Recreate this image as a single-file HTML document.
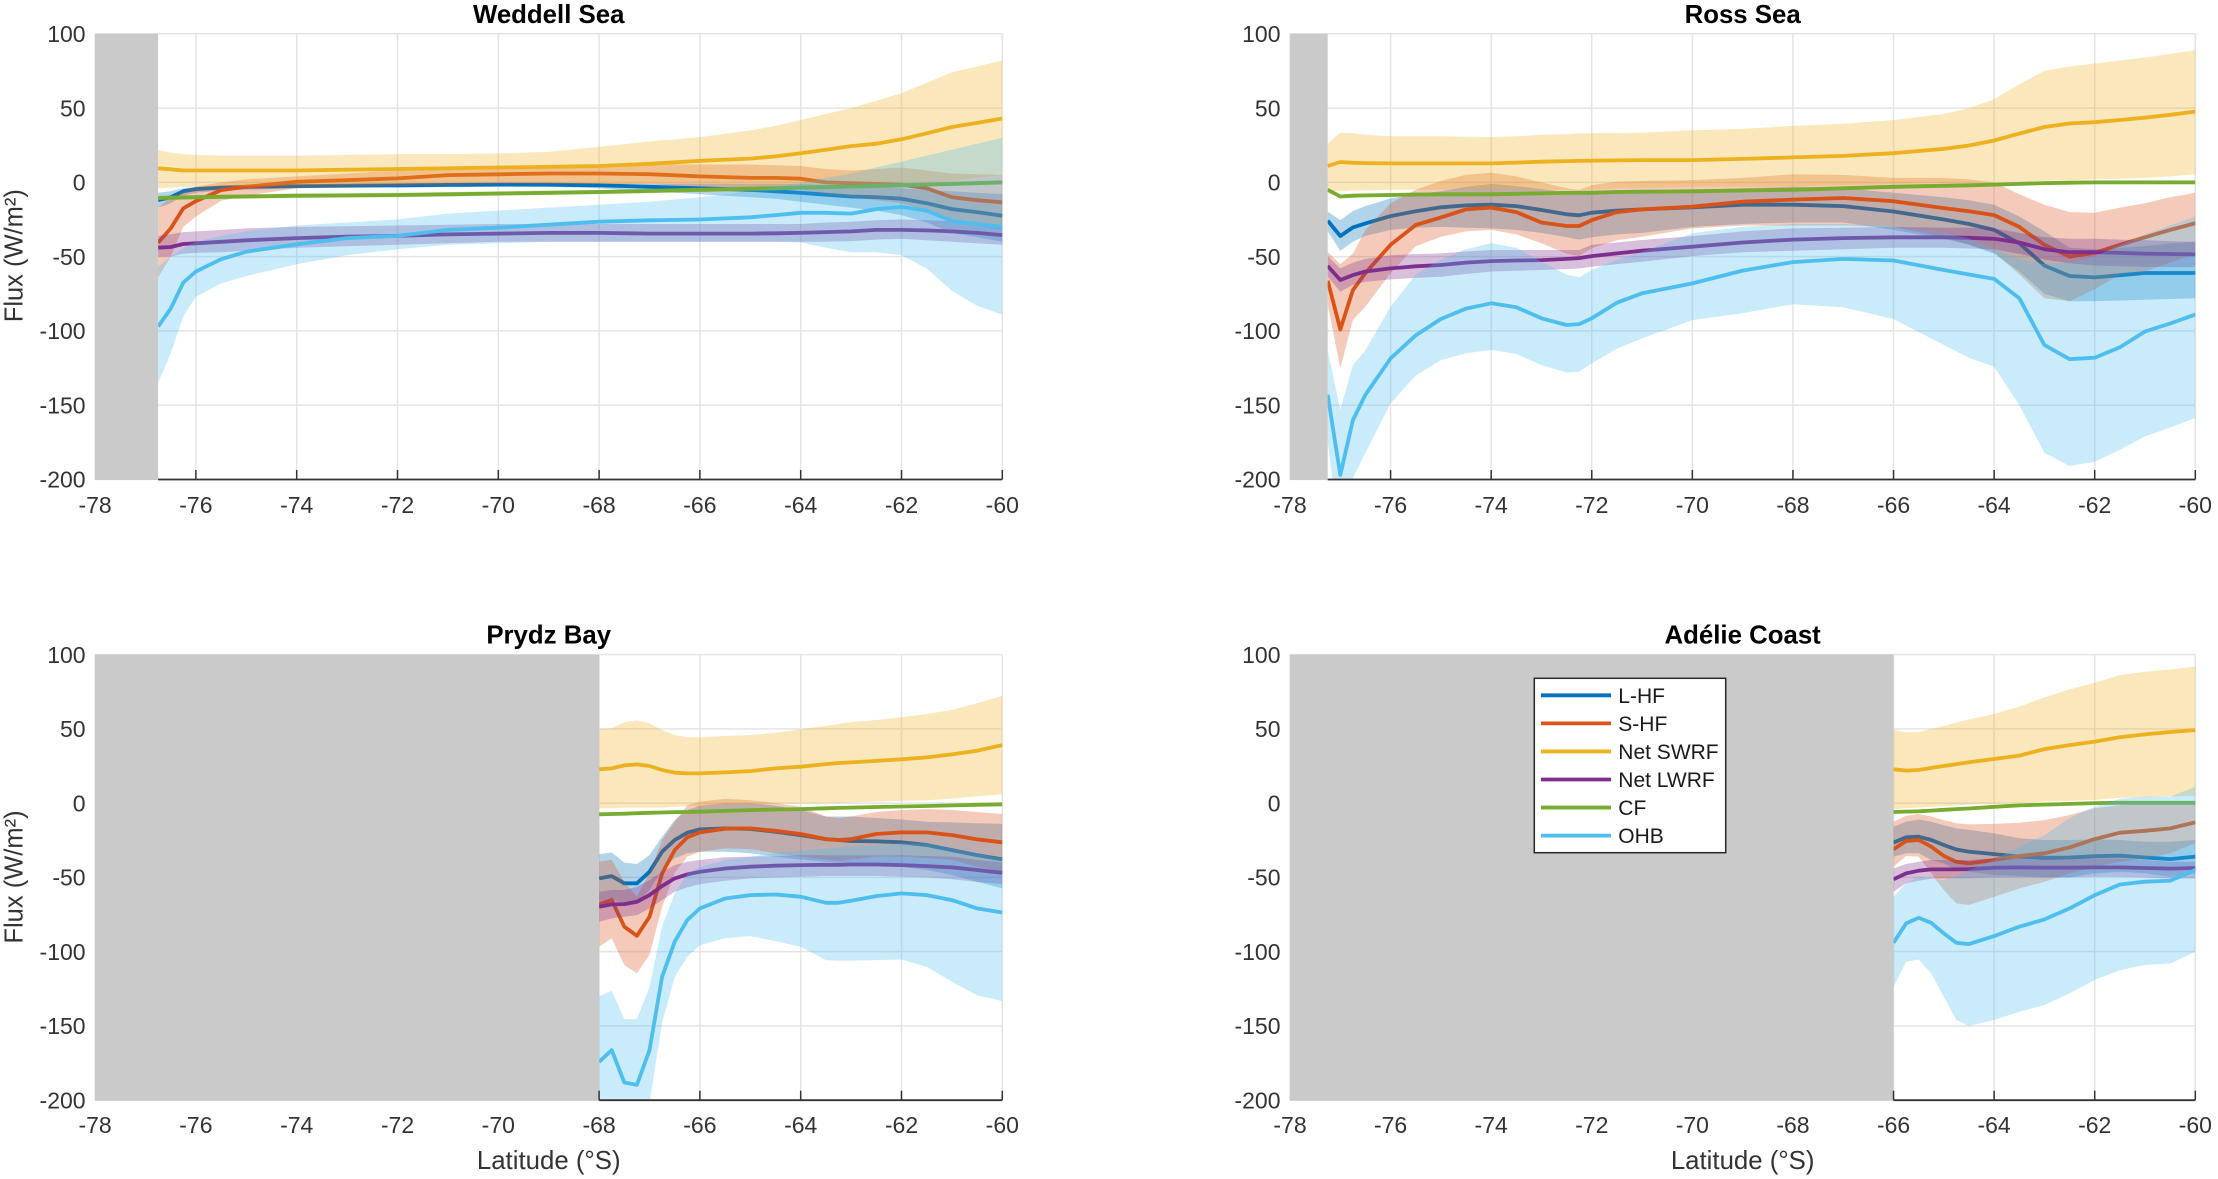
<!DOCTYPE html>
<html lang="en">
<head>
<meta charset="utf-8">
<title>Surface flux by latitude</title>
<style>
html,body{margin:0;padding:0;background:#fff;}
svg{display:block;font-family:"Liberation Sans",Arial,sans-serif;}
</style>
</head>
<body>
<svg id="figure" xmlns="http://www.w3.org/2000/svg" width="2218" height="1179" viewBox="0 0 2218 1179"></svg>
<script>
const latTicks = [-78,-76,-74,-72,-70,-68,-66,-64,-62,-60];
const fluxTicks = [100,50,0,-50,-100,-150,-200];
const legendLabels = ["L-HF","S-HF","Net SWRF","Net LWRF","CF","OHB"];

/* Weddell Sea */
const weddellLat = [-76.75,-76.5,-76.25,-76,-75.5,-75,-74,-73,-72,-71,-70,-69,-68,-67,-66,-65,-64.5,-64,-63.5,-63,-62.5,-62,-61.5,-61,-60.5,-60];
const weddellLhfMean = [-12,-10,-6,-4.5,-3.5,-3,-2.5,-2.2,-2,-1.7,-1.5,-1.6,-2,-3,-4,-5,-6,-7,-8.3,-9.5,-10,-11,-14,-18,-20,-22.5];
const weddellLhfUpper = [-7,-6,-4,-3,-2,-1.5,-1,-1,-0.8,-0.5,-0.3,-0.3,-0.5,-1,-1,-1,-1,-1,-1.5,-2,-3,-4,-5,-6,-7,-8];
const weddellLhfLower = [-17,-14,-9,-7,-5.5,-5,-4,-3.6,-3.5,-3.2,-3,-3,-4,-6,-8,-10,-11,-13,-15,-17,-19,-22,-27,-34,-37,-40];
const weddellShfMean = [-40.6,-31,-17.5,-12.6,-5.2,-3,0.4,1.5,2.7,4.9,5.4,6,6,5.5,4,3,3,2.5,0,-0.5,-1,-1.5,-4,-10,-12,-13.5];
const weddellShfUpper = [-17,-10,-6,-3,0,2,4,6,8,10,11,11.5,12,12,12,12,11.5,11,9,8,9,10,8,6,5.5,5];
const weddellShfLower = [-64,-50,-30,-23,-12.4,-9,-4,-3,-2.5,-2,-1,-1,-1,-1,-3,-4,-4.5,-5,-8,-10,-12,-14,-19,-26,-29,-32];
const weddellSwrfMean = [9.5,8.8,8,8,8,8,8,8.5,9,9.5,10,10.5,11,12.5,14.5,16,17.5,19.6,22,24.4,26,29,33,37.3,40,43];
const weddellSwrfUpper = [22,20,19,18.5,18,18,18,18.5,19,19,19.5,20.5,24,27.5,30.5,35,38,42,46,50,55,60,67,74,78,82];
const weddellSwrfLower = [-4,-3.5,-3,-3,-2.5,-2.5,-2,-1.5,-1,-0.5,0,-0.5,-1,-1,-1,-1.5,-2,-2,-1.5,-1,-1.5,-2,-0.5,1,3,5];
const weddellLwrfMean = [-44,-43.5,-41.5,-41,-40,-39,-37.5,-36.5,-36,-35,-34.5,-34,-34,-34.5,-34.5,-34.5,-34.3,-34,-33.5,-33,-32,-32,-32.3,-33,-34,-35.5];
const weddellLwrfUpper = [-36,-35,-33.5,-33,-32,-31,-30,-29.5,-29,-28.5,-28,-28,-28,-28,-28,-28,-28,-28,-27,-26.5,-25.5,-25,-25.5,-26,-27.5,-29];
const weddellLwrfLower = [-50,-50,-48,-47.5,-47,-46,-44,-43,-42,-41,-40,-40,-40,-40,-40,-40,-40,-40,-40,-39.5,-38.5,-38,-39,-40,-41,-42];
const weddellCfMean = [-10.5,-10.3,-10.2,-10,-9.7,-9.5,-9,-8.8,-8.5,-8,-7.5,-7,-6.5,-5.8,-5,-4.3,-4,-3.5,-3.2,-2.8,-2.4,-2,-1.5,-1,-0.5,0];
const weddellCfUpper = [-9,-8.8,-8.7,-8.5,-8.2,-8,-7.5,-7.3,-7,-6.5,-6,-5.5,-5,-4.3,-3.5,-2.8,-2.5,-2,-1.7,-1.3,-0.9,-0.5,0,0.5,1,1.5];
const weddellCfLower = [-12,-11.8,-11.7,-11.5,-11.2,-11,-10.5,-10.3,-10,-9.5,-9,-8.5,-8,-7.3,-6.5,-5.8,-5.5,-5,-4.7,-4.3,-3.9,-3.5,-3,-2.5,-2,-1.5];
const weddellOhbMean = [-97,-85,-67.5,-60,-51.7,-46.7,-41.6,-37.5,-36,-32,-30.5,-28.5,-26.5,-25.5,-25,-23.5,-22,-20.5,-20.5,-21,-18,-16.5,-19,-26,-28,-30];
const weddellOhbUpper = [-57,-50,-44,-40,-36,-33,-29,-27,-25,-21,-19,-17,-15,-13,-10,-6,-3,0,3,6,10,14,18,22,26,30];
const weddellOhbLower = [-135,-115,-90,-77,-68,-63,-55,-49,-45,-42,-41,-40,-40,-40,-40,-40,-40,-40.5,-44,-47,-47,-49,-58,-73,-83,-89];

/* Ross Sea */
const rossLat = [-77.25,-77,-76.75,-76.5,-76,-75.5,-75,-74.5,-74,-73.5,-73,-72.5,-72.25,-72,-71.5,-71,-70,-69,-68,-67,-66,-65,-64.5,-64,-63.5,-63,-62.5,-62,-61.5,-61,-60.5,-60];
const rossLhfMean = [-25.8,-36.1,-30.3,-27.6,-22.7,-19.5,-16.8,-15.5,-15,-16,-18.6,-21.5,-22.2,-20.4,-19,-18.2,-16.8,-15,-15,-16,-19.6,-25,-28,-32,-41,-56,-63,-64,-62.5,-61,-61,-61];
const rossLhfUpper = [-19.8,-25.4,-19.3,-16,-10.8,-8,-6,-3,-1,-2.5,-4.5,-6.5,-7,-6,-5.5,-5.5,-5,-4,-3,-4,-7,-10,-12,-15,-23,-33,-44,-45,-44,-43,-41,-40];
const rossLhfLower = [-33,-46,-40,-36,-32,-30.5,-30,-30.5,-31,-32,-34,-37,-38.5,-37,-35,-34,-30,-28,-27,-27,-32,-38,-42,-48,-60,-75,-80,-80,-79.5,-79,-78.5,-78];
const rossShfMean = [-66.2,-99,-72.5,-61,-42,-28.7,-23.6,-18.2,-17,-20,-27,-29.4,-29.4,-25.4,-20,-18.2,-16.4,-13,-11.6,-10.5,-12.7,-17.3,-19.5,-22,-30,-42,-50,-47.5,-42,-37,-32,-27.5];
const rossShfUpper = [-47,-55,-48,-32,-14,-5,1,5,6.5,4,0,-4,-5,-2,0.5,1,1.5,3,5.5,5,3,3,2,0,-8,-15,-20,-20.5,-17,-14,-10,-7];
const rossShfLower = [-82,-125,-92.6,-83.7,-61,-43,-36.6,-33,-32,-35,-41,-48,-49.6,-44.4,-39,-36.6,-31,-29,-29,-29,-30,-37,-42,-47,-62,-78,-80,-72,-62,-60,-54,-48];
const rossSwrfMean = [11,13.7,13.2,13,12.8,12.8,12.8,12.8,12.8,13.3,13.9,14.3,14.5,14.6,14.8,15,15,15.8,16.8,17.8,19.6,22.5,24.8,28.2,32.8,37.3,39.6,40.5,42,43.5,45.5,47.6];
const rossSwrfUpper = [26,33.5,33,32,31,31,31,30.7,30.5,31,32,32.5,33,33,33.2,33.5,35,36,38,39.5,42,46,50,56,66,75,78,80,82,84,86.5,89];
const rossSwrfLower = [-6,-6,-5.5,-5.5,-5,-5,-5,-5,-5,-5,-5,-5,-5,-5,-4,-4,-3,-3,-3,-2,-1,-0.5,0,0,0.5,1,1.5,2,2.5,3,4,5.5];
const rossLwrfMean = [-56.3,-65.7,-62.4,-60,-57.9,-56.5,-55.6,-54,-53,-52.6,-52.3,-51.5,-51,-49.6,-47.8,-46,-43.3,-40.5,-38.5,-37.5,-37,-37,-37.3,-38,-40.5,-45,-47,-47,-47.5,-48,-48.2,-48.5];
const rossLwrfUpper = [-49.6,-57.9,-54,-51.5,-49,-48.3,-47.8,-46.5,-45.5,-45.5,-45.5,-45.5,-45.5,-42,-40.5,-38.8,-36.2,-33,-31,-30.5,-30,-30.5,-30.5,-31,-34,-37,-38,-38,-38.5,-39,-39.5,-40];
const rossLwrfLower = [-63.5,-73.6,-69,-67,-65.3,-64.3,-63.5,-61.7,-60,-59.5,-59,-58.3,-58,-56.8,-55,-53.4,-49.6,-47,-46,-45,-44,-44,-44.5,-45,-48,-52,-54.5,-56,-56.5,-57,-57,-57];
const rossCfMean = [-5,-9.5,-9,-8.8,-8.5,-8.2,-8,-8,-8,-7.7,-7.4,-7.1,-7,-7,-6.5,-6.3,-6,-5.5,-5,-4,-3,-2.3,-2,-1.5,-1,-0.5,-0.2,0,0,0,0,0];
const rossCfUpper = [-3.7,-8.2,-7.7,-7.5,-7.2,-6.9,-6.7,-6.7,-6.7,-6.4,-6.1,-5.8,-5.7,-5.7,-5.2,-5,-4.7,-4.2,-3.7,-2.7,-1.7,-1,-0.7,-0.2,0.3,0.8,1.1,1.3,1.3,1.3,1.3,1.3];
const rossCfLower = [-6.3,-10.8,-10.3,-10.1,-9.8,-9.5,-9.3,-9.3,-9.3,-9,-8.7,-8.4,-8.3,-8.3,-7.8,-7.6,-7.3,-6.8,-6.3,-5.3,-4.3,-3.6,-3.3,-2.8,-2.3,-1.8,-1.5,-1.3,-1.3,-1.3,-1.3,-1.3];
const rossOhbMean = [-143,-197,-160,-143,-118.5,-103,-92,-85,-81.4,-84,-91.5,-96,-95.4,-91.5,-81,-74.7,-68,-59.4,-53.7,-51.5,-52.6,-59,-62,-65,-78,-109.5,-119,-118,-111,-100.4,-95,-89];
const rossOhbUpper = [-113,-153,-123,-113,-83.7,-62,-52,-45,-41,-44,-53.4,-62,-64,-59,-52,-46.7,-34.3,-30,-28,-28,-30,-34,-38,-45,-52,-55,-54,-50,-42,-35,-29,-23];
const rossOhbLower = [-175,-240,-199,-182,-148.7,-130,-119.6,-115,-112.8,-115.5,-123,-128,-127.4,-121.8,-112,-105,-92.7,-88,-82,-84,-92,-109.5,-118,-124,-150,-182,-190.9,-188,-180,-171,-165,-158.5];

/* Prydz Bay */
const prydzLat = [-68,-67.75,-67.5,-67.25,-67,-66.75,-66.5,-66.25,-66,-65.5,-65,-64.5,-64,-63.5,-63.25,-63,-62.5,-62,-61.5,-61,-60.5,-60];
const prydzLhfMean = [-50.7,-49.1,-54,-54,-46.2,-32.7,-24.8,-19.9,-17.7,-17,-17.4,-19.2,-21.5,-24.2,-24.8,-25.5,-25.7,-26.4,-28.2,-31.6,-35,-37.9];
const prydzLhfUpper = [-34.3,-33.2,-40,-41,-35,-22.6,-11.4,-4.6,-1.7,0,0,-1.7,-4.6,-9,-9,-9,-10,-11,-12.5,-13,-13.6,-14];
const prydzLhfLower = [-67.5,-65,-67.5,-67.5,-58.5,-45,-37,-33.8,-32.7,-32.7,-33.8,-36,-38,-39.4,-40,-40.6,-41.7,-42.8,-45,-48.4,-53,-57.4];
const prydzShfMean = [-68.2,-65.2,-83.2,-89.3,-76.5,-47.3,-31.6,-23,-19.7,-17.2,-17,-18.6,-20.8,-24.2,-24.8,-24.2,-20.8,-19.7,-19.7,-21.5,-24.4,-26.4];
const prydzShfUpper = [-39.5,-38,-53,-63,-47,-25,-12.5,-1.3,1,3,2,0,-2.4,-9,-10,-9,-6,-4.6,-4,-4.6,-6,-7.3];
const prydzShfLower = [-96.7,-91,-109,-114.6,-102,-70,-47,-36,-32.7,-30.5,-31,-33.8,-36,-38,-39,-38,-36,-36,-37,-38.3,-42.8,-46];
const prydzSwrfMean = [22.8,23.4,25.4,26.1,25,22.3,20.5,20,20,20.7,21.6,23.4,24.5,26.3,27,27.4,28.4,29.5,30.8,32.8,35.3,39.1];
const prydzSwrfUpper = [49.9,50.4,54.4,55.8,53.7,49.2,45.9,44.3,44.3,45.2,45.9,47.4,49.7,52,53.3,54.6,56,57.8,60,62.7,67.2,72.2];
const prydzSwrfLower = [-3.5,-3.5,-3,-3,-3,-3,-2.5,-2,-2,-1,-1,-0.5,-0.5,0,0,0.5,1,1.5,2,3,4.5,6];
const prydzLwrfMean = [-69.8,-68.2,-68,-66.4,-61.9,-55.8,-50.7,-48,-46.2,-44,-42.8,-42.1,-41.7,-41.5,-41.5,-41.3,-41.3,-41.7,-42.4,-43.3,-45,-46.9];
const prydzLwrfUpper = [-59.7,-58.5,-58.5,-56.3,-51.8,-46.2,-41.7,-39.5,-38.3,-36.5,-36,-35.6,-35,-35,-35,-35,-35,-35,-35.6,-36,-38.3,-40];
const prydzLwrfLower = [-79.9,-77.6,-76.5,-75.4,-70.9,-65.3,-59.7,-56.7,-54.5,-52.2,-50.7,-50,-49.5,-49,-49,-49,-49,-49.5,-50,-51.3,-53,-54.5];
const prydzCfMean = [-7.5,-7.3,-7.1,-6.8,-6.5,-6.3,-6.1,-6,-5.8,-5.2,-4.7,-4.3,-4,-3.5,-3.2,-3,-2.6,-2.3,-1.9,-1.5,-1.1,-0.8];
const prydzCfUpper = [-6.5,-6.3,-6.1,-5.8,-5.5,-5.3,-5.1,-5,-4.8,-4.2,-3.7,-3.3,-3,-2.5,-2.2,-2,-1.6,-1.3,-0.9,-0.5,-0.1,0.2];
const prydzCfLower = [-8.5,-8.3,-8.1,-7.8,-7.5,-7.3,-7.1,-7,-6.8,-6.2,-5.7,-5.3,-5,-4.5,-4.2,-4,-3.6,-3.3,-2.9,-2.5,-2.1,-1.8];
const prydzOhbMean = [-174.2,-166.3,-188.1,-189.7,-166.3,-116.9,-93.3,-78.7,-70.9,-64.2,-61.9,-61.5,-63,-67.1,-67.1,-65.7,-62.6,-60.8,-61.9,-65.3,-70.9,-73.6];
const prydzOhbUpper = [-129.9,-126.4,-145.4,-145.4,-123.7,-83.2,-60.8,-47.3,-42.8,-38.3,-36,-33.8,-32,-30.5,-29.8,-29.3,-28.2,-27,-27,-30.5,-33.8,-37.2];
const prydzOhbLower = [-218,-204.5,-227,-231,-202,-148,-117,-103.5,-95.6,-91,-89.5,-92.9,-96.7,-105.7,-106,-106,-105.7,-105.3,-110.2,-120.2,-129.3,-133.3];

/* Adelie Coast */
const adelieLat = [-66,-65.75,-65.5,-65.25,-65,-64.75,-64.5,-64,-63.5,-63,-62.5,-62,-61.5,-61,-60.5,-60];
const adelieLhfMean = [-26.6,-23,-22.6,-24.8,-28.2,-31.2,-32.7,-34.3,-36,-36.8,-36.6,-35.7,-35.4,-36.6,-37.7,-36];
const adelieLhfUpper = [-15.9,-12.5,-11,-12.5,-14.8,-17,-18,-20.4,-23.7,-24.8,-24.8,-24.4,-24.8,-26,-26,-24.8];
const adelieLhfLower = [-36,-33.8,-33.8,-38.3,-40.6,-45,-46.2,-48.4,-49,-50,-50,-47.3,-46.2,-47.3,-49.5,-47.3];
const adelieShfMean = [-31.1,-25.5,-24.8,-29.3,-35.6,-39.5,-40.6,-38.3,-35.6,-33.8,-29.8,-24.2,-19.9,-18.6,-17,-13];
const adelieShfUpper = [-12.5,-8.5,-7.3,-9,-11.4,-13.6,-14.3,-14,-13.2,-11.4,-8,-3.5,-1.3,-0.2,-0.2,1.6];
const adelieShfLower = [-42.8,-35.6,-36,-47.3,-58.5,-67.5,-68.6,-63,-57.4,-53,-47.3,-42.8,-39.4,-37.2,-33.8,-27];
const adelieSwrfMean = [22.8,21.9,22.3,23.7,25,26.3,27.5,29.7,32,36.4,39.1,41.4,44.3,46.3,47.9,49.2];
const adelieSwrfUpper = [49.2,47.7,47.9,49.9,51.9,54.2,56.4,60,65,71.2,76.6,81.1,86.2,88.4,90,91.9];
const adelieSwrfLower = [-4,-3.5,-3,-2.5,-2,-1.5,-1,-0.5,0,1,1.5,2.2,3.5,4,4.5,5];
const adelieLwrfMean = [-51.3,-47.3,-45.5,-44.6,-44.6,-44.6,-44.4,-43.5,-43.3,-43.5,-43.5,-43.3,-43.3,-43.7,-44.1,-43.7];
const adelieLwrfUpper = [-44,-41,-39.5,-38.3,-38.3,-38.3,-38.3,-37.2,-37.2,-37.2,-37.2,-37.2,-37.2,-38.3,-39.5,-39.5];
const adelieLwrfLower = [-59.7,-54,-52.2,-50.9,-50.7,-50.7,-50.7,-50,-50,-50,-50,-49.5,-49.5,-50,-50.7,-50.7];
const adelieCfMean = [-6,-5.7,-5.5,-5,-4.5,-4,-3.6,-2.5,-1.5,-1,-0.5,0,0.2,0.2,0.2,0.2];
const adelieCfUpper = [-5,-4.7,-4.5,-4,-3.5,-3,-2.6,-1.5,-0.5,0,0.5,1,1.2,1.2,1.2,1.2];
const adelieCfLower = [-7,-6.7,-6.5,-6,-5.5,-5,-4.6,-3.5,-2.5,-2,-1.5,-1,-0.8,-0.8,-0.8,-0.8];
const adelieOhbMean = [-94,-81,-77.2,-80.6,-87.7,-94,-94.9,-89.5,-83.2,-78.3,-70.9,-62,-54.8,-52.9,-52.2,-45];
const adelieOhbUpper = [-63,-54,-49.5,-50.7,-51.8,-49,-45,-38.3,-29.3,-21.5,-10,-2.4,3,4.3,4.3,11];
const adelieOhbLower = [-123.7,-106.8,-105.3,-114.6,-130.4,-146,-150,-146,-140.4,-136,-128,-119,-112.4,-109,-108,-100];

const seriesStyle = [
  {key:"l-hf", color:"#0072BD"},
  {key:"s-hf", color:"#D95319"},
  {key:"net-swrf", color:"#EDB120"},
  {key:"net-lwrf", color:"#7E2F8E"},
  {key:"cf", color:"#77AC30"},
  {key:"ohb", color:"#4DBEEE"}
];

const panels = [
  {key:"weddell", title:"Weddell Sea", left:95.1, right:1002.3, top:33.8, bottom:479.5, yLabel:true, xLabel:false, titleY:23, tickY:513, yLabelY:255.7,
   lat:weddellLat, series:[[weddellLhfMean,weddellLhfUpper,weddellLhfLower],[weddellShfMean,weddellShfUpper,weddellShfLower],[weddellSwrfMean,weddellSwrfUpper,weddellSwrfLower],[weddellLwrfMean,weddellLwrfUpper,weddellLwrfLower],[weddellCfMean,weddellCfUpper,weddellCfLower],[weddellOhbMean,weddellOhbUpper,weddellOhbLower]]},
  {key:"ross", title:"Ross Sea", left:1290, right:2195.3, top:33.8, bottom:479.5, yLabel:false, xLabel:false, titleY:23, tickY:513,
   lat:rossLat, series:[[rossLhfMean,rossLhfUpper,rossLhfLower],[rossShfMean,rossShfUpper,rossShfLower],[rossSwrfMean,rossSwrfUpper,rossSwrfLower],[rossLwrfMean,rossLwrfUpper,rossLwrfLower],[rossCfMean,rossCfUpper,rossCfLower],[rossOhbMean,rossOhbUpper,rossOhbLower]]},
  {key:"prydz", title:"Prydz Bay", left:95.1, right:1002.3, top:654.6, bottom:1100.2, yLabel:true, xLabel:true, titleY:643.5, tickY:1133, yLabelY:877,
   lat:prydzLat, series:[[prydzLhfMean,prydzLhfUpper,prydzLhfLower],[prydzShfMean,prydzShfUpper,prydzShfLower],[prydzSwrfMean,prydzSwrfUpper,prydzSwrfLower],[prydzLwrfMean,prydzLwrfUpper,prydzLwrfLower],[prydzCfMean,prydzCfUpper,prydzCfLower],[prydzOhbMean,prydzOhbUpper,prydzOhbLower]]},
  {key:"adelie", title:"Adélie Coast", left:1290, right:2195.3, top:654.6, bottom:1100.2, yLabel:false, xLabel:true, titleY:643.5, tickY:1133,
   lat:adelieLat, series:[[adelieLhfMean,adelieLhfUpper,adelieLhfLower],[adelieShfMean,adelieShfUpper,adelieShfLower],[adelieSwrfMean,adelieSwrfUpper,adelieSwrfLower],[adelieLwrfMean,adelieLwrfUpper,adelieLwrfLower],[adelieCfMean,adelieCfUpper,adelieCfLower],[adelieOhbMean,adelieOhbUpper,adelieOhbLower]]}
];

const NS = "http://www.w3.org/2000/svg";
const svg = document.getElementById("figure");

function make(parent, tag, attrs, text) {
  const el = document.createElementNS(NS, tag);
  for (const k in attrs) el.setAttribute(k, attrs[k]);
  if (text !== undefined) el.textContent = text;
  parent.appendChild(el);
  return el;
}
function xScale(p, lat) { return p.left + (lat - latTicks[0]) / (latTicks[latTicks.length - 1] - latTicks[0]) * (p.right - p.left); }
function yScale(p, v) { return p.top + (fluxTicks[0] - v) / (fluxTicks[0] - fluxTicks[fluxTicks.length - 1]) * (p.bottom - p.top); }

panels.forEach(function (p) {
  const g = make(svg, "g", {});
  
  

  const clip = make(g, "clipPath", {id: "clip-" + p.key});
  make(clip, "rect", {x: p.left, y: p.top, width: p.right - p.left, height: p.bottom - p.top});

  fluxTicks.forEach(function (t) {
    const y = yScale(p, t);
    if (t !== fluxTicks[fluxTicks.length - 1]) {
      const line = make(g, "line", {x1: p.left, x2: p.right, y1: y, y2: y, stroke: "#e4e4e4", "stroke-width": 1.5});
      
      
    }
    const label = make(g, "text", {x: p.left - 9.5, y: y + 8.2, "text-anchor": "end", "font-size": 23, fill: "#333"}, String(t));
    
    
  });
  latTicks.forEach(function (t) {
    const x = xScale(p, t);
    const line = make(g, "line", {x1: x, x2: x, y1: p.top, y2: p.bottom, stroke: "#e4e4e4", "stroke-width": 1.5});
    
    
    const label = make(g, "text", {x: x, y: p.tickY, "text-anchor": "middle", "font-size": 23, fill: "#333"}, String(t));
    
    
  });

  const marks = make(g, "g", {"clip-path": "url(#clip-" + p.key + ")"});
  p.series.forEach(function (s, i) {
    const style = seriesStyle[i];
    const mean = s[0], upper = s[1], lower = s[2];
    let d = "";
    p.lat.forEach(function (lat, j) { d += (j ? "L" : "M") + xScale(p, lat).toFixed(1) + " " + yScale(p, upper[j]).toFixed(1); });
    for (let j = p.lat.length - 1; j >= 0; j--) d += "L" + xScale(p, p.lat[j]).toFixed(1) + " " + yScale(p, lower[j]).toFixed(1);
    const band = make(marks, "path", {d: d + "Z", fill: style.color, "fill-opacity": 0.3, stroke: "none"});
    
    
    const pts = p.lat.map(function (lat, j) { return xScale(p, lat).toFixed(1) + "," + yScale(p, mean[j]).toFixed(1); }).join(" ");
    const line = make(marks, "polyline", {points: pts, fill: "none", stroke: style.color, "stroke-width": 3.8, "stroke-linejoin": "round"});
    
    
  });

  const dataStart = xScale(p, p.lat[0]);
  const mask = make(g, "rect", {x: p.left, y: p.top, width: dataStart - p.left, height: p.bottom - p.top + 0.6, fill: "#cacaca"});
  
  

  const axis = make(g, "line", {x1: dataStart, x2: p.right, y1: p.bottom, y2: p.bottom, stroke: "#333", "stroke-width": 1.8});
  
  
  latTicks.forEach(function (t) {
    if (t < p.lat[0]) return;
    const x = xScale(p, t);
    const tick = make(g, "line", {x1: x, x2: x, y1: p.bottom, y2: p.bottom - 9.5, stroke: "#333", "stroke-width": 1.5});
    
    
  });

  const title = make(g, "text", {x: (p.left + p.right) / 2, y: p.titleY, "text-anchor": "middle", "font-size": 25.8, "font-weight": "bold", fill: "#000"}, p.title);
  
  

  if (p.yLabel) {
    const yl = make(g, "text", {transform: "translate(22.5 " + p.yLabelY + ") rotate(-90)", "text-anchor": "middle", "font-size": 25.5, fill: "#333"}, "Flux (W/m²)");
    
    
  }
  if (p.xLabel) {
    const xl = make(g, "text", {x: (p.left + p.right) / 2, y: 1169, "text-anchor": "middle", "font-size": 25.8, fill: "#333"}, "Latitude (°S)");
    
    
  }
});

const legend = make(svg, "g", {});


const legendBox = make(legend, "rect", {x: 1534.3, y: 678.3, width: 191.4, height: 174.4, fill: "#fff", stroke: "#262626", "stroke-width": 1.5});


legendLabels.forEach(function (name, i) {
  const y = 695.3 + i * 28.06;
  const sample = make(legend, "line", {x1: 1541, x2: 1611, y1: y, y2: y, stroke: seriesStyle[i].color, "stroke-width": 3.8});
  
  
  const label = make(legend, "text", {x: 1618.3, y: y + 7.6, "font-size": 21, fill: "#1a1a1a"}, name);
  
  
});
</script>
</body>
</html>
